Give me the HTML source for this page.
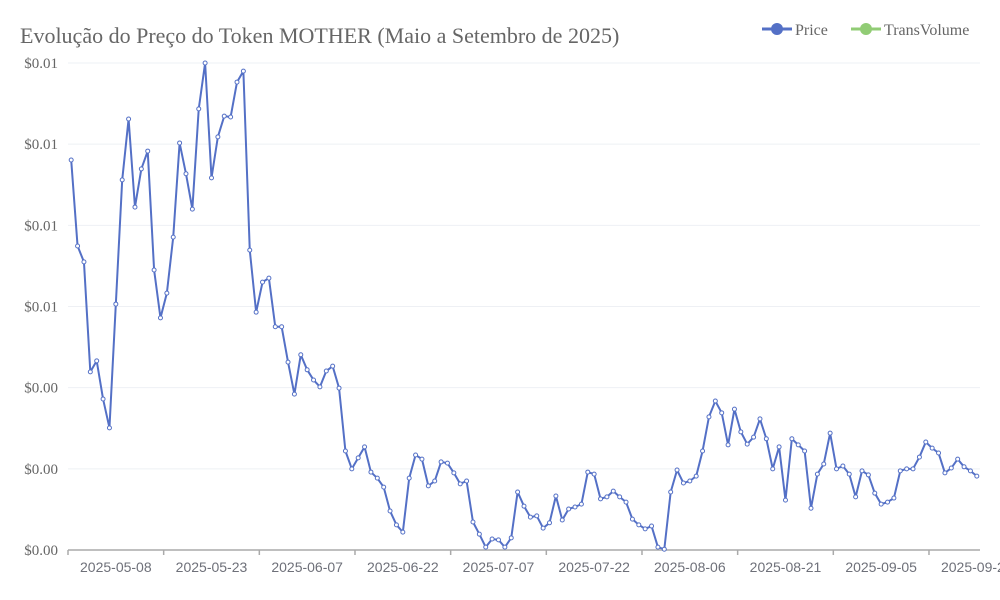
<!DOCTYPE html>
<html><head><meta charset="utf-8"><style>
body{margin:0;background:#fff}
svg{display:block}
</style></head><body>
<svg id="chart" width="1000" height="600" xmlns="http://www.w3.org/2000/svg">
<text x="20" y="43" font-family="Liberation Serif, serif" font-size="22" fill="#666">Evolução do Preço do Token MOTHER (Maio a Setembro de 2025)</text>
<g>
<g>
<line x1="762" y1="29" x2="792" y2="29" stroke="#5470c6" stroke-width="3"/>
<circle cx="777" cy="29" r="6" fill="#5470c6"/>
<text x="795" y="35" font-family="Liberation Serif, serif" font-size="16" fill="#666">Price</text>
</g>
<g>
<line x1="851" y1="29" x2="881" y2="29" stroke="#91cc75" stroke-width="3"/>
<circle cx="866" cy="29" r="6" fill="#91cc75"/>
<text x="884" y="35" font-family="Liberation Serif, serif" font-size="16" fill="#666">TransVolume</text>
</g>
</g>
<g id="grid"></g><g id="axes"></g><g id="series"></g>
</svg>
<script>
const startDate = "2025-05-01";
const priceMilli = [
9.61,7.49,7.10,4.39,4.66,3.72,3.01,6.06,9.12,10.62,
8.45,9.39,9.83,6.90,5.72,6.33,7.71,10.03,9.27,8.40,
10.87,12.00,9.17,10.18,10.69,10.67,11.53,11.80,7.39,5.86,
6.60,6.70,5.50,5.50,4.63,3.84,4.81,4.44,4.19,4.02,
4.41,4.53,3.99,2.44,2.00,2.27,2.54,1.92,1.77,1.55,
0.96,0.62,0.44,1.77,2.34,2.24,1.58,1.70,2.17,2.14,
1.90,1.63,1.70,0.69,0.39,0.07,0.27,0.25,0.07,0.30,
1.43,1.08,0.81,0.84,0.54,0.67,1.33,0.74,1.01,1.06,
1.13,1.92,1.87,1.26,1.31,1.45,1.31,1.18,0.76,0.62,
0.52,0.59,0.07,0.02,1.43,1.97,1.65,1.70,1.82,2.44,
3.28,3.67,3.38,2.59,3.47,2.91,2.61,2.78,3.23,2.74,
2.00,2.54,1.23,2.74,2.59,2.44,1.03,1.87,2.12,2.88,
2.00,2.07,1.87,1.31,1.95,1.85,1.40,1.13,1.18,1.28,
1.95,2.00,2.00,2.29,2.66,2.51,2.39,1.90,2.02,2.24,
2.05,1.95,1.82];
const yTicks = [0,0.002,0.004,0.006,0.008,0.010,0.012];
const labelInterval = 15;

const NS="http://www.w3.org/2000/svg";
const L=68,R=980,T=63,B=550;
const n=priceMilli.length;
const band=(R-L)/n;
const yMax=yTicks[yTicks.length-1];
const xs=i=>L+(i+0.5)*band;
const ys=v=>B-(v/yMax)*(B-T);
function mk(tag,attrs,parent){const e=document.createElementNS(NS,tag);for(const k in attrs)e.setAttribute(k,attrs[k]);parent.appendChild(e);return e;}
function dateStr(i){const d=new Date(startDate+"T00:00:00Z");d.setUTCDate(d.getUTCDate()+i);return d.toISOString().slice(0,10);}
const grid=document.getElementById('grid'),axes=document.getElementById('axes'),series=document.getElementById('series');
yTicks.forEach(t=>{
  const y=ys(t);
  if(t>0){const g=mk('line',{x1:L,x2:R,y1:y,y2:y,stroke:'#eef0f4','stroke-width':1},grid);
  
  }
  const tx=mk('text',{x:58,y:y+5,'text-anchor':'end','font-family':'Liberation Serif, serif','font-size':15,fill:'#666'},axes);
  tx.textContent='$'+t.toFixed(2);
  
  
});
const ax=mk('line',{x1:L,x2:R,y1:B,y2:B,stroke:'#aaa','stroke-width':1.5},axes);


for(let i=0;i<=n;i+=labelInterval){
  const x=L+i*band;
  const tk=mk('line',{x1:x,x2:x,y1:B,y2:B+5,stroke:'#aaa','stroke-width':1.5},axes);
  
  
  const li=i+7;
  if(li<n){
    const tx=mk('text',{x:xs(li),y:572,'text-anchor':'middle','font-family':'Liberation Sans, sans-serif','font-size':14,fill:'#6e7079'},axes);
    tx.textContent=dateStr(li);
    
    
  }
}
const vals=priceMilli.map(v=>v/1000);
const pts=vals.map((v,i)=>xs(i).toFixed(2)+','+ys(v).toFixed(2)).join(' ');
const line=mk('polyline',{points:pts,fill:'none',stroke:'#5470c6','stroke-width':2,'stroke-linejoin':'round'},series);


vals.forEach((v,i)=>{
  const c=mk('circle',{cx:xs(i),cy:ys(v),r:2,fill:'#fff',stroke:'#5470c6','stroke-width':1},series);
  
  
});
</script>
</body></html>
